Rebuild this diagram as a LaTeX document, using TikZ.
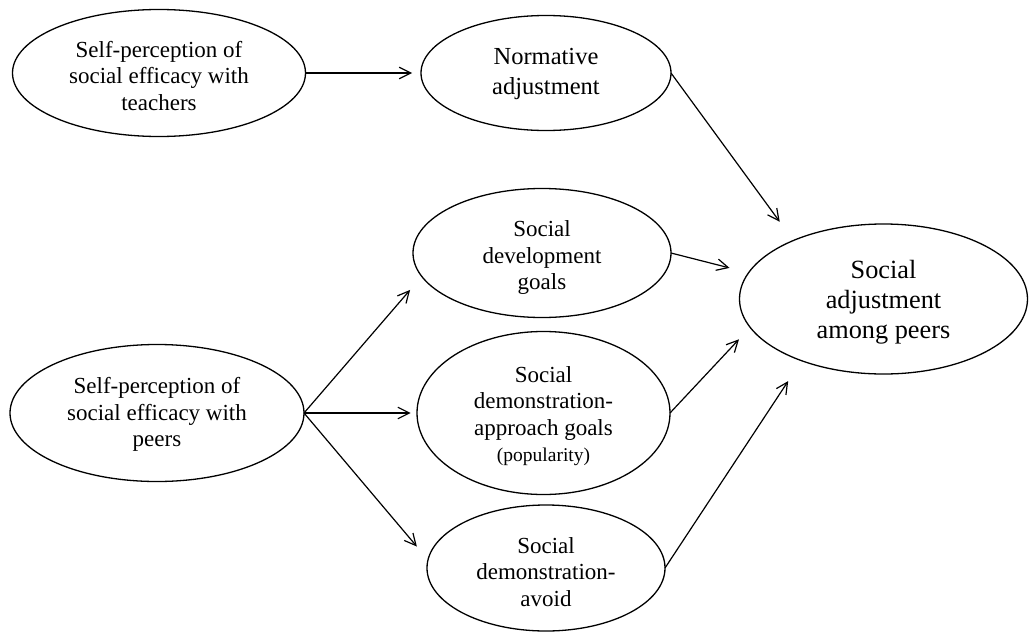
\documentclass[tikz,border=0pt]{standalone}
\usepackage{fontspec}
\setmainfont{Liberation Serif}
\usetikzlibrary{arrows.meta,shapes.geometric}
\newcommand{\topstrut}[1]{\rule{0pt}{#1}}
\begin{document}
\begin{tikzpicture}[x=1pt,y=1pt,
  elli/.style={draw, ellipse, line width=1.3pt, inner sep=0pt, outer sep=0pt,
    align=center, font=\fontsize{23}{26.5}\selectfont},
  conn/.style={line width=1.2pt, -{Straight Barb[length=11.5pt,width=11.5pt]}}]
\useasboundingbox (0,0) rectangle (1029,-632);
\node[elli, minimum width=293pt, minimum height=127pt] (T) at (159,-73)
  {\topstrut{21.7pt}Self-perception of\\social efficacy with\\teachers};
\node[elli, minimum width=250pt, minimum height=115pt,
  font=\fontsize{24.5}{30}\selectfont] (N) at (546,-73)
  {\topstrut{19.2pt}Normative\\adjustment};
\node[elli, minimum width=294pt, minimum height=137pt] (P) at (157,-413)
  {\topstrut{19.7pt}Self-perception of\\social efficacy with\\peers};
\node[elli, minimum width=258pt, minimum height=129pt] (D) at (542,-253)
  {\topstrut{25.7pt}Social\\development\\goals};
\node[elli, minimum width=253pt, minimum height=163pt] (A) at (543.5,-413)
  {\topstrut{21.7pt}Social\\demonstration-\\approach goals\\{\fontsize{19.5}{25}\selectfont (popularity)}};
\node[elli, minimum width=238pt, minimum height=126pt] (V) at (546,-568)
  {\topstrut{23.7pt}Social\\demonstration-\\avoid};
\node[elli, minimum width=288pt, minimum height=150pt,
  font=\fontsize{26.3}{30}\selectfont] (S) at (883.5,-299)
  {\topstrut{24pt}Social\\adjustment\\among peers};
\draw[conn, shorten >=9pt] (T.east) -- (N.west);
\draw[conn, shorten >=17.9pt] (P.east) -- (D.191.4);
\draw[conn, shorten >=6.3pt] (P.east) -- (A.west);
\draw[conn, shorten >=17.3pt] (P.east) -- (V.176.9);
\draw[conn, shorten >=23.2pt] (N.east) -- (S.147);
\draw[conn, shorten >=19.7pt] (D.east) -- (S.169.7);
\draw[conn, shorten >=16.4pt] (A.east) -- (S.192);
\draw[conn, shorten >=24.4pt] (V.east) -- (S.217.8);
\end{tikzpicture}
\end{document}
